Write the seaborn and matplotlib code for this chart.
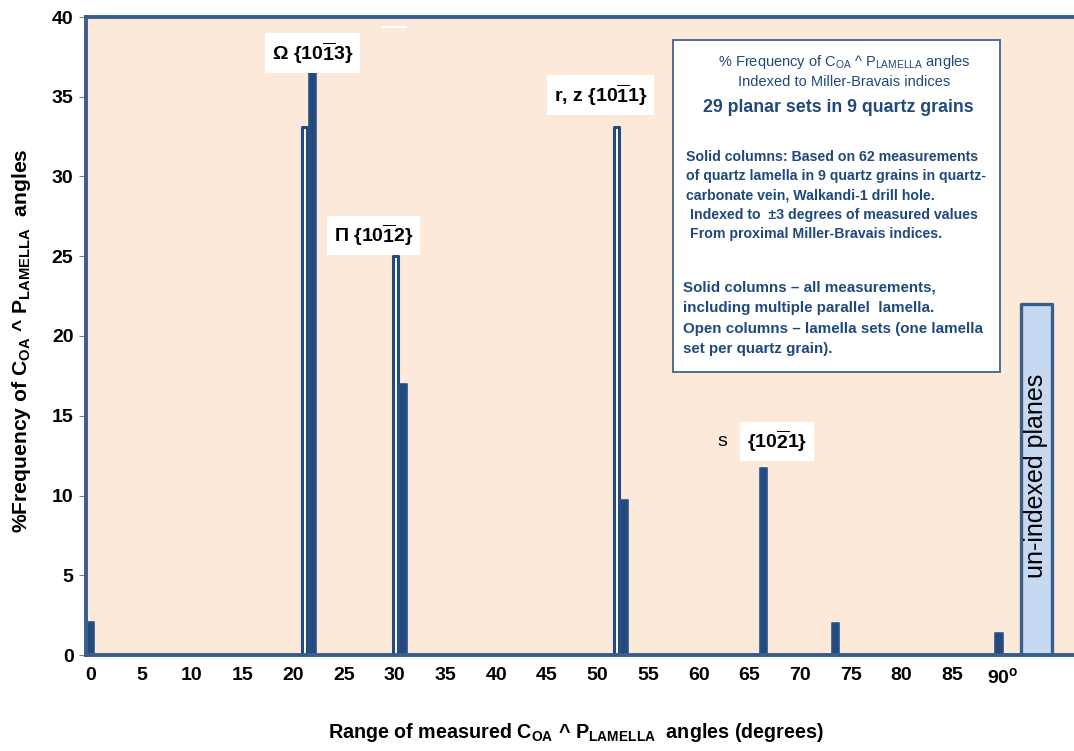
import matplotlib
matplotlib.use("Agg")
import matplotlib.pyplot as plt
import seaborn as sns
import numpy as np
from matplotlib.patches import Rectangle

# ---------------- data ----------------
open_angles = [21.1, 30.05, 51.9]          # open columns (lamella sets)
open_freq = [33.1, 25.0, 33.1]
solid_angles = [0.0, 21.85, 30.8, 52.6, 66.4, 73.45, 89.6]   # solid columns (all measurements)
solid_freq = [2.1, 37.8, 17.0, 9.7, 11.7, 2.0, 1.4]
unindexed_angle = [93.3]
unindexed_freq = [22.0]
x_ticks = list(range(0, 91, 5))
x_tick_labels = [str(t) for t in x_ticks[:-1]] + [r'90$^{\mathregular{o}}$']
y_ticks = list(range(0, 41, 5))

peak_labels = [r'Ω {10$\mathbf{\overline{1}}$3}', r'Π {10$\mathbf{\overline{1}}$2}',
               r'r, z {10$\mathbf{\overline{1}}$1}', r'{10$\mathbf{\overline{2}}$1}']

# ---------------- style ----------------
sns.set_theme(style="white")
plt.rcParams['font.family'] = ['Liberation Sans', 'DejaVu Sans']
plt.rcParams['mathtext.fontset'] = 'custom'
plt.rcParams['mathtext.rm'] = 'Liberation Sans'
plt.rcParams['mathtext.bf'] = 'Liberation Sans:bold'
plt.rcParams['mathtext.it'] = 'Liberation Sans:italic'
plt.rcParams['mathtext.default'] = 'bf'

NAVY = '#234A7E'
FRAME = '#3A5D8C'
PEACH = '#FDE9D9'
TXT = '#1F497D'

W, H = 1074, 751
fig = plt.figure(figsize=(W / 100, H / 100), dpi=100)
ax = fig.add_axes([86 / W, 1 - 655 / H, (W - 86) / W, (655 - 17) / H])
ax.set_facecolor(PEACH)


def native_width(xs, w):
    u = np.unique(xs)
    unit = np.min(np.diff(u)) if len(u) > 1 else 1.0
    return w / unit


def styled_bars(xs, ys, w, face, edge, lw):
    before = len(ax.patches)
    sns.barplot(x=xs, y=ys, native_scale=True, orient='x', errorbar=None,
                width=native_width(xs, w), color=face, saturation=1, ax=ax)
    for p in ax.patches[before:]:
        p.set_facecolor(face)
        p.set_edgecolor(edge)
        p.set_linewidth(lw)
        p.set_joinstyle('round')


styled_bars(open_angles, open_freq, 0.50, 'white', NAVY, 2.2)
styled_bars(solid_angles, solid_freq, 0.72, NAVY, '#2A5288', 1.2)
styled_bars(unindexed_angle, unindexed_freq, 3.05, '#C6D9F1', FRAME, 2.4)

ax.set_xlim(-0.46, 97.0)
ax.set_ylim(0, 40)
ax.set_xticks(x_ticks)
ax.set_xticklabels(x_tick_labels)
ax.set_yticks(y_ticks)
ax.tick_params(axis='x', length=0, pad=9, labelsize=14)
ax.tick_params(axis='y', length=5, width=0.8, color='#7F7F7F', direction='out',
               pad=4, labelsize=14, left=True)
for lab in ax.get_xticklabels() + ax.get_yticklabels():
    lab.set_fontweight('bold')
    lab.set_color('black')

for s in ['left', 'top', 'bottom']:
    ax.spines[s].set_visible(True)
    ax.spines[s].set_linewidth(2.8)
    ax.spines[s].set_color(FRAME)
ax.spines['right'].set_visible(False)

ax.set_ylabel(r'%Frequency of C$_{\mathbf{OA}}$ ^ P$_{\mathbf{LAMELLA}}$  angles',
              fontsize=15.2, fontweight='bold', color='black',
              va='center', ha='center', rotation_mode='default')
ax.yaxis.set_label_coords((22 - 86) / 988, (655 - 341) / 638)
ax.set_xlabel(r'Range of measured C$_{\mathbf{OA}}$ ^ P$_{\mathbf{LAMELLA}}$  angles (degrees)',
              fontsize=14.2, fontweight='bold', color='black', va='center', ha='center')
ax.xaxis.set_label_coords((576 - 86) / 988, (655 - 732) / 638)

# peak labels (white boxes)
box = dict(boxstyle='square,pad=0.35', facecolor='white', edgecolor='none')
ax.text(21.9, 37.75, peak_labels[0], ha='center', va='center', fontsize=14,
        fontweight='bold', color='black', bbox=box, zorder=5)
ax.text(27.9, 26.3, peak_labels[1], ha='center', va='center', fontsize=14,
        fontweight='bold', color='black', bbox=box, zorder=5)
ax.text(50.3, 35.1, peak_labels[2], ha='center', va='center', fontsize=14,
        fontweight='bold', color='black', bbox=box, zorder=5)
ax.text(62.3, 13.4, 's', ha='center', va='center', fontsize=14,
        color='black', zorder=5)
ax.text(67.7, 13.4, peak_labels[3], ha='center', va='center', fontsize=14,
        fontweight='bold', color='black', bbox=box, zorder=5)
ax.text(93.3, 11.2, 'un-indexed planes', rotation=90, ha='center', va='center',
        fontsize=18, color='black', zorder=5)

# small white artifact near top
fig.patches.append(Rectangle((382 / W, 1 - 28 / H), 25 / W, 2 / H,
                             transform=fig.transFigure, facecolor='white',
                             edgecolor='none', zorder=5))

# text box
fig.patches.append(Rectangle((673 / W, 1 - 372 / H), (1000 - 673) / W, (372 - 40) / H,
                             transform=fig.transFigure, facecolor='white',
                             edgecolor='#4F6D96', lw=1.4, zorder=5))
fig.text(844 / W, 1 - 62 / H,
         r'% Frequency of C$_{\mathrm{OA}}$ ^ P$_{\mathrm{LAMELLA}}$ angles',
         ha='center', va='center', fontsize=10.5, color=TXT, zorder=6)
fig.text(844 / W, 1 - 82 / H, 'Indexed to Miller-Bravais indices',
         ha='center', va='center', fontsize=10.5, color=TXT, zorder=6)
fig.text(838 / W, 1 - 108 / H, '29 planar sets in 9 quartz grains',
         ha='center', va='center', fontsize=12.8, fontweight='bold', color=TXT, zorder=6)

block1 = ['Solid columns: Based on 62 measurements',
          'of quartz lamella in 9 quartz grains in quartz-',
          'carbonate vein, Walkandi-1 drill hole.',
          'Indexed to  ±3 degrees of measured values',
          'From proximal Miller-Bravais indices.']
b1_x = [686, 686, 686, 690, 690]
for i, line in enumerate(block1):
    fig.text(b1_x[i] / W, 1 - (157 + 19.2 * i) / H, line, ha='left', va='center',
             fontsize=10.2, fontweight='bold', color=TXT, zorder=6)

block2 = ['Solid columns – all measurements,',
          'including multiple parallel  lamella.',
          'Open columns – lamella sets (one lamella',
          'set per quartz grain).']
for i, line in enumerate(block2):
    fig.text(683 / W, 1 - (287 + 20.8 * i) / H, line, ha='left', va='center',
             fontsize=10.9, fontweight='bold', color=TXT, zorder=6)

fig.savefig('out.png', dpi=100, facecolor='white')
